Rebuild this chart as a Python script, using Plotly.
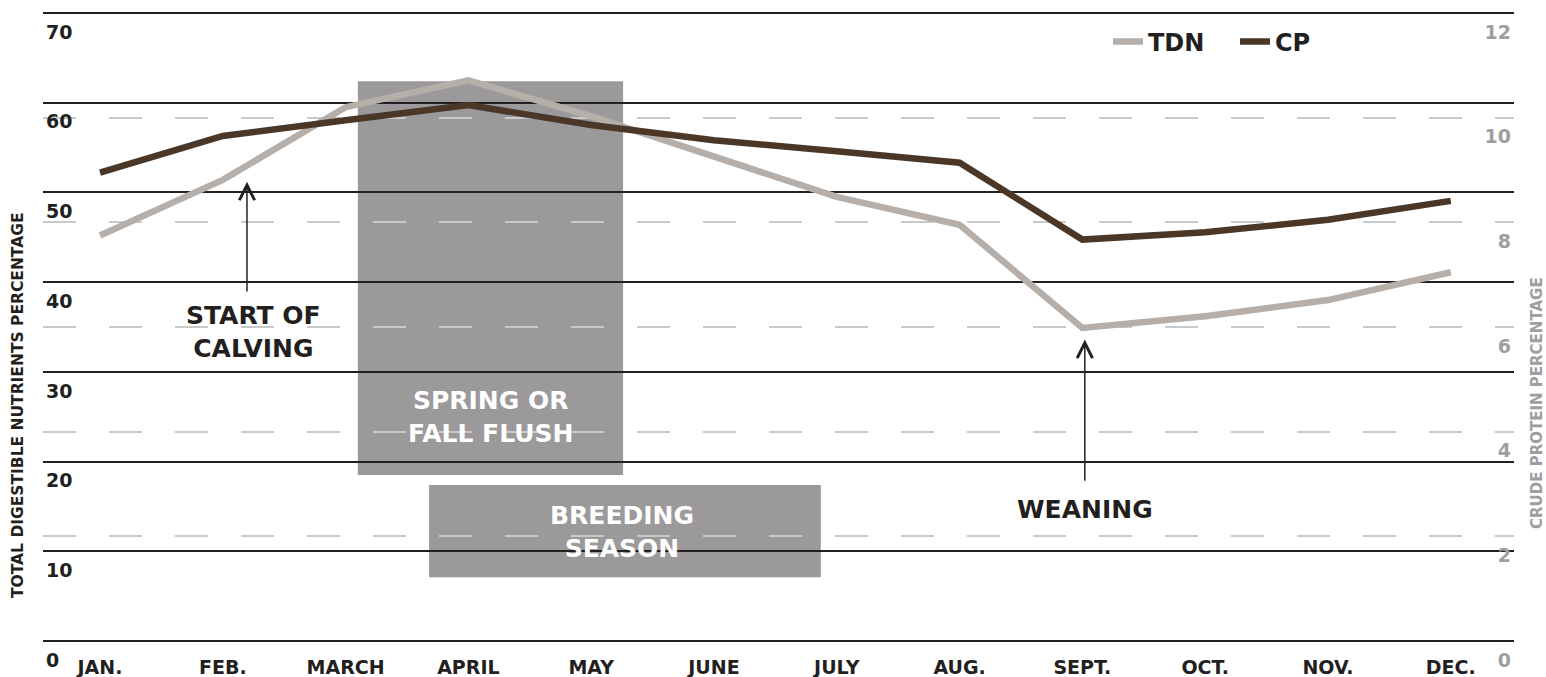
import plotly.graph_objects as go

months = ["JAN.", "FEB.", "MARCH", "APRIL", "MAY", "JUNE", "JULY", "AUG.", "SEPT.", "OCT.", "NOV.", "DEC."]
tdn = [45.2, 51.4, 59.5, 62.5, 58.5, 54.0, 49.5, 46.4, 34.9, 36.2, 38.0, 41.1]
cp = [8.95, 9.65, 9.95, 10.24, 9.86, 9.57, 9.36, 9.14, 7.67, 7.81, 8.05, 8.41]
left_ticks = [0, 10, 20, 30, 40, 50, 60, 70]
right_ticks = [0, 2, 4, 6, 8, 10, 12]
right_grid = [2, 4, 6, 8, 10]

# shaded periods: (label, x start, x end, y start, y end, text x, text y) in month-index / TDN units
periods = [
    ("SPRING OR<br>FALL FLUSH", 2.10, 4.26, 18.5, 62.4, 3.18, 25.0),
    ("BREEDING<br>SEASON", 2.68, 5.87, 7.1, 17.4, 4.25, 12.2),
]
# event arrows: (label, x, tip y, tail y, text y, text x)
events = [
    ("START OF<br>CALVING", 1.197, 51.2, 38.8, 34.4, 1.25),
    ("WEANING", 8.02, 33.6, 17.7, 14.7, 8.02),
]

FONT = "DejaVu Sans"
BLACK = "#231f20"
TDN_C = "#b6afa9"
CP_C = "#4b3727"
RECT_C = "#9b999a"
GREY_TXT = "#9e9e9e"

fig = go.Figure()
fig.add_trace(go.Scatter(x=months, y=tdn, name="TDN", mode="lines",
                         line=dict(color=TDN_C, width=6.5), yaxis="y"))
fig.add_trace(go.Scatter(x=months, y=cp, name="CP", mode="lines",
                         line=dict(color=CP_C, width=6.5), yaxis="y2"))

shapes = []
annotations = []
for label, x0, x1, y0, y1, tx, ty in periods:
    shapes.append(dict(type="rect", xref="x", yref="y", x0=x0, x1=x1, y0=y0, y1=y1,
                       fillcolor=RECT_C, line=dict(width=0), layer="below"))
    annotations.append(dict(x=tx, y=ty, xref="x", yref="y", text=label,
                            showarrow=False, font=dict(family=FONT, size=25, color="white", weight="bold")))

for label, x, tip, tail, ty, tx in events:
    annotations.append(dict(x=x, y=tip, ax=x, ay=tail, xref="x", yref="y", axref="x", ayref="y",
                            text="", showarrow=True, arrowhead=5, arrowsize=2.0, arrowwidth=1.5,
                            arrowcolor=BLACK))
    annotations.append(dict(x=tx, y=ty, xref="x", yref="y", text=label, showarrow=False,
                            font=dict(family=FONT, size=25, color=BLACK, weight="bold")))

annotations.append(dict(x=18 / 1546, y=1 - 405 / 677, xref="paper", yref="paper",
                        text="TOTAL DIGESTIBLE NUTRIENTS PERCENTAGE",
                        textangle=-90, showarrow=False, xanchor="center", yanchor="middle",
                        font=dict(family=FONT, size=15.5, color=BLACK, weight="bold")))
annotations.append(dict(x=1537 / 1546, y=1 - 403 / 677, xref="paper", yref="paper",
                        text="CRUDE PROTEIN PERCENTAGE",
                        textangle=-90, showarrow=False, xanchor="center", yanchor="middle",
                        font=dict(family=FONT, size=15, color=GREY_TXT, weight="bold")))

# plot area spans full height; axis ranges chosen so 0..70 maps to y pixels 641..13
y_lo = -36 / 8.975
y_hi = 70 + 13 / 8.975
y2_lo = -36 / 52.33
y2_hi = 12 + 13 / 52.33

fig.update_layout(
    width=1546, height=677, autosize=False,
    margin=dict(l=0, r=0, t=0, b=0, pad=0),
    paper_bgcolor="white", plot_bgcolor="white",
    font=dict(family=FONT, color=BLACK),
    shapes=shapes, annotations=annotations,
    showlegend=True,
    legend=dict(orientation="h", x=1108 / 1546, y=1 - 42 / 677, xref="paper", yref="paper",
                xanchor="left", yanchor="middle",
                font=dict(family=FONT, size=24, color=BLACK, weight="bold"),
                bgcolor="rgba(0,0,0,0)", entrywidth=82),
    xaxis=dict(type="category", domain=[43 / 1546, 1514 / 1546], range=[-0.464, 11.515],
               showgrid=False, zeroline=False, automargin=False,
               showline=False, ticks="", ticklabelposition="inside", ticklabelstandoff=-4,
               tickfont=dict(family=FONT, size=19, color=BLACK, weight="bold")),
    yaxis=dict(range=[y_lo, y_hi], tickvals=left_ticks, showgrid=True, gridcolor=BLACK, gridwidth=2,
               zeroline=True, zerolinecolor=BLACK, zerolinewidth=2, showline=False, automargin=False,
               ticklabelposition="inside", ticklabelshift=19,
               tickfont=dict(family=FONT, size=19, color=BLACK, weight="bold")),
    yaxis2=dict(range=[y2_lo, y2_hi], tickvals=right_ticks, overlaying="y", side="right",
                showgrid=False, zeroline=False, showline=False, automargin=False,
                ticklabelposition="inside", ticklabelshift=19,
                tickfont=dict(family=FONT, size=19, color=GREY_TXT, weight="bold")),
    yaxis3=dict(range=[y2_lo, y2_hi], tickvals=right_grid, overlaying="y", side="right",
                showgrid=True, gridcolor="#c9c9c9", gridwidth=2, griddash="33px,33px",
                zeroline=False, showline=False, showticklabels=False, automargin=False),
)
# invisible helper trace so the dashed-grid axis is rendered
fig.add_trace(go.Scatter(x=[months[0]], y=[right_grid[0]], yaxis="y3", mode="markers",
                         marker=dict(opacity=0), showlegend=False, hoverinfo="skip"))

fig.write_html("out.html", config={"displayModeBar": False},
               post_script="document.body.style.margin='0';document.body.style.padding='0';"
                           "document.body.style.overflow='hidden';")
